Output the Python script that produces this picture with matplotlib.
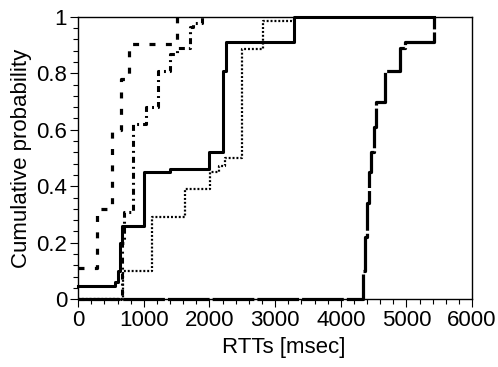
import matplotlib
matplotlib.use("Agg")
import matplotlib.pyplot as plt
from matplotlib.ticker import MultipleLocator, FuncFormatter

plt.rcParams['font.family'] = ['Liberation Sans', 'DejaVu Sans']
plt.rcParams['lines.scale_dashes'] = False

# step points of each CDF (x in msec, y = cumulative probability)
solid_x = [0, 560, 600, 630, 660, 1000, 1400, 2000, 2210, 2250, 3280, 5420]
solid_y = [0.045, 0.06, 0.1, 0.2, 0.26, 0.45, 0.46, 0.52, 0.81, 0.91, 1.0, 1.0]

dotted_x = [0, 680, 1130, 1630, 2010, 2150, 2230, 2490, 2820, 3280]
dotted_y = [0, 0.10, 0.29, 0.39, 0.45, 0.47, 0.50, 0.885, 0.985, 1.0]

dashed_x = [0, 280, 520, 650, 780, 1510]
dashed_y = [0.11, 0.32, 0.60, 0.78, 0.905, 1.0]

dashdot_x = [0, 660, 700, 840, 1040, 1210, 1400, 1500, 1700, 1750, 1890]
dashdot_y = [0, 0.2, 0.31, 0.62, 0.68, 0.81, 0.87, 0.89, 0.965, 0.98, 1.0]

longdash_x = [0, 4340, 4370, 4400, 4430, 4460, 4500, 4540, 4680, 4900, 4980, 5420]
longdash_y = [0, 0.1, 0.22, 0.34, 0.45, 0.52, 0.61, 0.70, 0.81, 0.89, 0.91, 1.0]

fig = plt.figure(figsize=(4.98, 3.67), dpi=100)
ax = fig.add_axes([0.157, 0.185, 0.791, 0.769])

ax.plot(longdash_x, longdash_y, color='black', lw=2.3, drawstyle='steps-post',
        dashes=(30, 2.2), clip_on=False)
ax.plot(dotted_x, dotted_y, color='black', lw=1.6, drawstyle='steps-post',
        dashes=(1.4, 1.4), clip_on=False)
ax.plot(dashdot_x, dashdot_y, color='black', lw=2.2, drawstyle='steps-post',
        dashes=(4.3, 2.9, 1.4, 2.9), clip_on=False)
ax.plot(dashed_x, dashed_y, color='black', lw=2.3, drawstyle='steps-post',
        dashes=(4.3, 7.5), clip_on=False)
ax.plot(solid_x, solid_y, color='black', lw=2.2, drawstyle='steps-post',
        clip_on=False)

ax.set_xlim(0, 6000)
ax.set_ylim(0, 1)
ax.xaxis.set_major_locator(MultipleLocator(1000))
ax.xaxis.set_minor_locator(MultipleLocator(200))
ax.yaxis.set_major_locator(MultipleLocator(0.2))
ax.yaxis.set_minor_locator(MultipleLocator(0.04))
ax.yaxis.set_major_formatter(FuncFormatter(lambda v, p: '%g' % round(v, 2)))

ax.tick_params(which='both', direction='out', top=False, right=False,
               labelsize=16, width=0.8, colors='black', pad=2)
ax.tick_params(which='major', length=6)
ax.tick_params(which='minor', length=3.5)
for s in ax.spines.values():
    s.set_linewidth(1.0)

ax.set_xlabel('RTTs [msec]', fontsize=16, labelpad=4)
ax.xaxis.label.set_x(0.523)
ax.set_ylabel('Cumulative probability', fontsize=16, labelpad=3)

fig.savefig('out.png', dpi=100)
